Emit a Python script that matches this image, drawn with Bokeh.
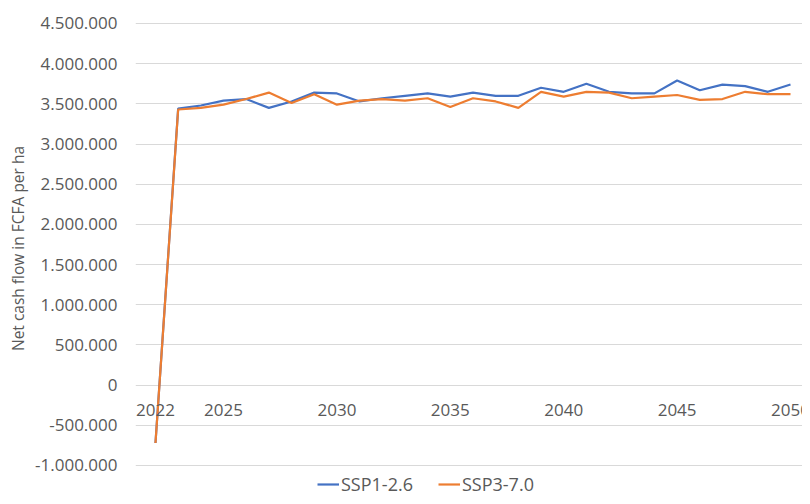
from bokeh.plotting import figure
from bokeh.models import (ColumnDataSource, FixedTicker, CustomJSTickFormatter,
                          Legend, LegendItem, Range1d, LabelSet)
from bokeh.core.properties import value
from bokeh.embed import file_html
from bokeh.resources import INLINE

years = list(range(2022, 2051))
ssp126 = [-720000, 3440000, 3480000, 3540000, 3560000, 3450000, 3530000, 3640000,
          3630000, 3530000, 3570000, 3600000, 3630000, 3590000, 3640000, 3600000,
          3600000, 3700000, 3650000, 3750000, 3650000, 3630000, 3630000, 3790000,
          3670000, 3740000, 3720000, 3650000, 3740000]
ssp370 = [-720000, 3430000, 3450000, 3490000, 3560000, 3640000, 3510000, 3620000,
          3490000, 3540000, 3560000, 3540000, 3570000, 3460000, 3570000, 3530000,
          3450000, 3650000, 3590000, 3650000, 3640000, 3570000, 3590000, 3610000,
          3550000, 3560000, 3650000, 3620000, 3620000]
series_names = ["SSP1-2.6", "SSP3-7.0"]
series_colors = ["#4472C4", "#ED7D31"]
y_ticks = [-1000000, -500000, 0, 500000, 1000000, 1500000, 2000000, 2500000,
           3000000, 3500000, 4000000, 4500000]
x_tick_years = [2022, 2025, 2030, 2035, 2040, 2045, 2050]
y_title = "Net cash flow in FCFA per ha"

FONT = "Open Sans"
GREY = "#595959"

p = figure(width=802, height=496, output_backend="svg", toolbar_location=None,
           x_range=Range1d(2021.119, 2050.529), y_range=Range1d(-1385800, 4786200),
           min_border_left=135, min_border_top=0, min_border_right=0,
           min_border_bottom=0)
p.outline_line_color = None
p.background_fill_color = "white"
p.border_fill_color = "white"

p.xaxis.visible = False
p.xgrid.grid_line_color = None
p.ygrid.grid_line_color = "#D9D9D9"
p.ygrid.grid_line_width = 1

p.yaxis.ticker = FixedTicker(ticks=y_ticks)
p.yaxis.formatter = CustomJSTickFormatter(code="""
    return Math.round(tick).toString().replace(/\\B(?=(\\d{3})+(?!\\d))/g, '.');
""")
p.yaxis.axis_line_color = None
p.yaxis.major_tick_line_color = None
p.yaxis.minor_tick_line_color = None
p.yaxis.major_label_text_font = FONT
p.yaxis.major_label_text_font_size = "17px"
p.yaxis.major_label_text_color = GREY
p.yaxis.major_label_standoff = 12
p.yaxis.axis_label = y_title
p.yaxis.axis_label_text_font = FONT
p.yaxis.axis_label_text_font_size = "15.5px"
p.yaxis.axis_label_text_font_style = "normal"
p.yaxis.axis_label_text_color = GREY
p.yaxis.axis_label_standoff = 3

src = ColumnDataSource(dict(x=years, a=ssp126, b=ssp370))
r1 = p.line("x", "a", source=src, line_color=series_colors[0], line_width=2.2)
r2 = p.line("x", "b", source=src, line_color=series_colors[1], line_width=2.2)

# category labels sitting on the zero line
lab = ColumnDataSource(dict(x=x_tick_years, y=[0] * len(x_tick_years),
                            t=[str(v) for v in x_tick_years]))
p.add_layout(LabelSet(x="x", y="y", text="t", source=lab, text_font=value(FONT),
                      text_font_size=value("17px"), text_color=value(GREY),
                      text_align="center", text_baseline="middle", y_offset=-25))

legend = Legend(items=[LegendItem(label=series_names[0], renderers=[r1]),
                       LegendItem(label=series_names[1], renderers=[r2])],
                orientation="horizontal", location=(182, 0),
                label_text_font=FONT, label_text_font_size="18px",
                label_text_color=GREY, border_line_color=None,
                background_fill_alpha=0, glyph_width=22, glyph_height=14,
                label_height=20, label_standoff=2, spacing=25, padding=0, margin=0)
p.add_layout(legend, "center")

open("out.html", "w").write(file_html(p, INLINE))
